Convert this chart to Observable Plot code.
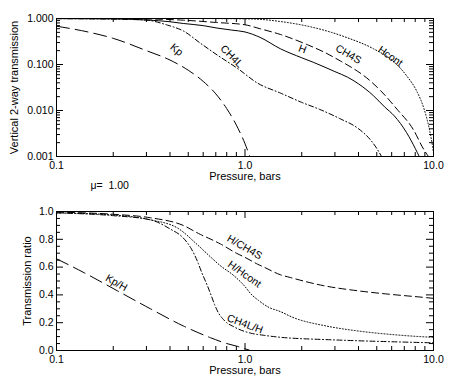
<!DOCTYPE html>
<html>
<head>
<meta charset="utf-8">
<script src="https://cdn.jsdelivr.net/npm/d3@7"></script>
<script src="https://cdn.jsdelivr.net/npm/@observablehq/plot@0.6"></script>
<style>
  html, body { margin: 0; padding: 0; background: white; }
  #chart { width: 450px; height: 386px; position: relative; }
  #chart svg { display: block; }
</style>
</head>
<body>
<div id="chart"></div>
<script>
// ---------- Top panel: vertical 2-way transmission ----------
const pKp   = [0.1, 0.15, 0.2, 0.3, 0.4, 0.5, 0.6, 0.7, 0.8, 0.9, 1.0, 1.06];
const tKp   = [0.68, 0.50, 0.37, 0.20, 0.125, 0.075, 0.043, 0.023, 0.011, 0.0048, 0.0019, 0.001];

const pCH4L = [0.1, 0.2, 0.3, 0.387, 0.473, 0.58, 0.715, 0.91, 1.17, 1.54, 2.0, 2.5, 3.2, 3.94, 4.63, 5.0, 5.3];
const tCH4L = [0.99, 0.97, 0.92, 0.72, 0.53, 0.29, 0.159, 0.083, 0.039, 0.024, 0.015, 0.0105, 0.0066, 0.0042, 0.0023, 0.0015, 0.001];

const pH    = [0.1, 0.2, 0.3, 0.4, 0.47, 0.6, 0.71, 0.85, 1.0, 1.2, 1.54, 2.0, 2.3, 3.0, 3.5, 4.0, 4.8, 5.5, 6.2, 7.2, 8.0, 8.4];
const tH    = [0.995, 0.98, 0.93, 0.85, 0.78, 0.70, 0.62, 0.56, 0.51, 0.39, 0.22, 0.14, 0.112, 0.07, 0.053, 0.038, 0.021, 0.012, 0.0076, 0.0033, 0.0015, 0.001];

const pCH4S = [0.1, 0.2, 0.3, 0.47, 0.7, 1.0, 1.2, 1.54, 2.14, 2.6, 3.2, 3.94, 4.25, 5.24, 6.4, 7.8, 8.9, 9.4];
const tCH4S = [1.0, 0.995, 0.98, 0.92, 0.82, 0.73, 0.6, 0.45, 0.27, 0.19, 0.12, 0.072, 0.058, 0.027, 0.0107, 0.0039, 0.0014, 0.001];

const pHcont = [0.1, 0.5, 1.0, 1.2, 1.54, 2.3, 3.5, 4.8, 6.2, 7.2, 8.2, 8.9, 9.5, 9.9, 10];
const tHcont = [1.0, 1.0, 0.985, 0.96, 0.86, 0.64, 0.38, 0.22, 0.112, 0.057, 0.025, 0.011, 0.004, 0.0016, 0.0012];

const topLabels = ["Kp", "CH4L", "H", "CH4S", "Hcont"];
const topLabelP = [0.434, 0.85, 2.02, 3.54, 5.9];
const topLabelV = [0.21, 0.151, 0.215, 0.167, 0.151];
const topLabelA = [40, 45, 20, 30, 35];

// ---------- Bottom panel: transmission ratio ----------
const pKpH   = [0.1, 0.14, 0.21, 0.315, 0.47, 0.656, 0.8, 0.91, 1.0, 1.05];
const rKpH   = [0.66, 0.56, 0.43, 0.30, 0.177, 0.092, 0.05, 0.03, 0.012, 0.004];

const pHCH4S = [0.1, 0.2, 0.315, 0.47, 0.58, 0.66, 0.74, 0.9, 1.0, 1.17, 1.26, 1.54, 1.74, 2.62, 3.94, 5.8, 9.2, 10];
const rHCH4S = [0.995, 0.98, 0.955, 0.90, 0.835, 0.80, 0.767, 0.70, 0.67, 0.62, 0.60, 0.545, 0.525, 0.466, 0.43, 0.405, 0.38, 0.375];

const pHHcont = [0.1, 0.2, 0.315, 0.44, 0.56, 0.66, 0.74, 0.87, 1.0, 1.07, 1.18, 1.34, 1.54, 1.78, 2.68, 4.0, 6.0, 9.0, 10];
const rHHcont = [0.99, 0.975, 0.94, 0.88, 0.76, 0.67, 0.61, 0.54, 0.46, 0.41, 0.36, 0.31, 0.28, 0.24, 0.177, 0.14, 0.115, 0.098, 0.095];

const pCH4LH = [0.1, 0.2, 0.315, 0.4, 0.47, 0.52, 0.56, 0.59, 0.63, 0.66, 0.69, 0.72, 0.76, 0.8, 0.86, 0.91, 1.07, 1.25, 1.54, 2.0, 2.5, 4.0, 6.0, 10];
const rCH4LH = [0.99, 0.97, 0.94, 0.875, 0.81, 0.73, 0.64, 0.56, 0.47, 0.40, 0.33, 0.275, 0.23, 0.20, 0.175, 0.158, 0.125, 0.11, 0.095, 0.085, 0.08, 0.07, 0.063, 0.055];

const botLabels = ["Kp/H", "H/CH4S", "H/Hcont", "CH4L/H"];
const botLabelP = [0.208, 0.994, 0.994, 1.0];
const botLabelV = [0.487, 0.744, 0.549, 0.191];
const botLabelA = [30, 30, 35, 20];

// ---------- Ticks ----------
const xMajor = [0.1, 1, 10];
const xMajorText = ["0.1", "1.0", "10.0"];
const xMinor = [0.2, 0.3, 0.4, 0.5, 0.6, 0.7, 0.8, 0.9, 2, 3, 4, 5, 6, 7, 8, 9];
const yTopMajor = [0.001, 0.01, 0.1, 1];
const yTopMajorText = ["0.001", "0.010", "0.100", "1.000"];
const yTopMinor = [0.002,0.003,0.004,0.005,0.006,0.007,0.008,0.009,0.02,0.03,0.04,0.05,0.06,0.07,0.08,0.09,0.2,0.3,0.4,0.5,0.6,0.7,0.8,0.9];
const yBotMajor = [0, 0.2, 0.4, 0.6, 0.8, 1.0];
const yBotMajorText = ["0.0", "0.2", "0.4", "0.6", "0.8", "1.0"];
const yBotMinor = [0.05, 0.1, 0.15, 0.25, 0.3, 0.35, 0.45, 0.5, 0.55, 0.65, 0.7, 0.75, 0.85, 0.9, 0.95];

const zip = (ps, vs, name) => ps.map((p, i) => ({p, v: vs[i], name}));

const font = "'Liberation Sans', Arial, Helvetica, sans-serif";
const W = 450, H = 193;
const ML = 56, MR = 17;
const MAJ = 7, MIN = 4;

function ticksMarks(frameH, frameW, yMaj, yMin) {
  return [
    Plot.tickX(xMajor, {x: d => d, insetTop: frameH - MAJ, stroke: "black"}),
    Plot.tickX(xMajor, {x: d => d, insetBottom: frameH - MAJ, stroke: "black"}),
    Plot.tickX(xMinor, {x: d => d, insetTop: frameH - MIN, stroke: "black"}),
    Plot.tickX(xMinor, {x: d => d, insetBottom: frameH - MIN, stroke: "black"}),
    Plot.tickY(yMaj, {y: d => d, insetRight: frameW - MAJ, stroke: "black"}),
    Plot.tickY(yMaj, {y: d => d, insetLeft: frameW - MAJ, stroke: "black"}),
    Plot.tickY(yMin, {y: d => d, insetRight: frameW - MIN, stroke: "black"}),
    Plot.tickY(yMin, {y: d => d, insetLeft: frameW - MIN, stroke: "black"})
  ];
}

const lineStyle = (dash) => ({x: "p", y: "v", stroke: "black", strokeWidth: 1, strokeDasharray: dash, curve: "monotone-x"});

const DASH = "7,4", DOT = "1,2", DASHDOT = "5,2.5,1,2.5", LONG = "13,6";

// Top plot
const topMT = 18, topMB = 37;
const topFrameH = H - topMT - topMB, frameW = W - ML - MR;
const topPlot = Plot.plot({
  width: W, height: H,
  marginTop: topMT, marginBottom: topMB, marginLeft: ML, marginRight: MR,
  x: {type: "log", domain: [0.1, 10], axis: null},
  y: {type: "log", domain: [0.001, 1], axis: null},
  style: {fontFamily: font, fontSize: "10.5px", background: "white", color: "black", overflow: "visible"},
  marks: [
    Plot.line(zip(pKp, tKp, "Kp"), lineStyle(LONG)),
    Plot.line(zip(pCH4L, tCH4L, "CH4L"), lineStyle(DASHDOT)),
    Plot.line(zip(pH, tH, "H"), lineStyle(null)),
    Plot.line(zip(pCH4S, tCH4S, "CH4S"), lineStyle(DASH)),
    Plot.line(zip(pHcont, tHcont, "Hcont"), lineStyle(DOT)),
    Plot.text(topLabels, {x: (d, i) => topLabelP[i], y: (d, i) => topLabelV[i], text: d => d, rotate: (d, i) => topLabelA[i], fill: "black", fontSize: 10.5}),
    ...ticksMarks(topFrameH, frameW, yTopMajor, yTopMinor),
    Plot.frame({stroke: "black"}),
    Plot.text(xMajor, {x: d => d, text: (d, i) => xMajorText[i], frameAnchor: "bottom", dy: 12, fill: "black"}),
    Plot.text(yTopMajor, {y: d => d, text: (d, i) => yTopMajorText[i], frameAnchor: "left", dx: -3, textAnchor: "end", fill: "black"}),
    Plot.text(["Pressure, bars"], {frameAnchor: "bottom", dy: 23, fill: "black", fontSize: 11}),
    Plot.text(["Vertical 2-way transmission"], {frameAnchor: "left", dx: -42, rotate: -90, textAnchor: "middle", fill: "black", fontSize: 11}),
    Plot.text(["\u03bc=  1.00"], {frameAnchor: "bottom-left", dx: 34, dy: 32, textAnchor: "start", fill: "black", fontSize: 10.5})
  ]
});

// Bottom plot
const botMT = 18, botMB = 36;
const botFrameH = H - botMT - botMB;
const bottomPlot = Plot.plot({
  width: W, height: H,
  marginTop: botMT, marginBottom: botMB, marginLeft: ML, marginRight: MR,
  x: {type: "log", domain: [0.1, 10], axis: null},
  y: {type: "linear", domain: [0, 1], axis: null},
  style: {fontFamily: font, fontSize: "10.5px", background: "white", color: "black", overflow: "visible"},
  marks: [
    Plot.line(zip(pKpH, rKpH, "Kp/H"), lineStyle(LONG)),
    Plot.line(zip(pHCH4S, rHCH4S, "H/CH4S"), lineStyle(DASH)),
    Plot.line(zip(pHHcont, rHHcont, "H/Hcont"), lineStyle(DOT)),
    Plot.line(zip(pCH4LH, rCH4LH, "CH4L/H"), lineStyle(DASHDOT)),
    Plot.text(botLabels, {x: (d, i) => botLabelP[i], y: (d, i) => botLabelV[i], text: d => d, rotate: (d, i) => botLabelA[i], fill: "black", fontSize: 10.5}),
    ...ticksMarks(botFrameH, frameW, yBotMajor, yBotMinor),
    Plot.frame({stroke: "black"}),
    Plot.text(xMajor, {x: d => d, text: (d, i) => xMajorText[i], frameAnchor: "bottom", dy: 12, fill: "black"}),
    Plot.text(yBotMajor, {y: d => d, text: (d, i) => yBotMajorText[i], frameAnchor: "left", dx: -3, textAnchor: "end", fill: "black"}),
    Plot.text(["Pressure, bars"], {frameAnchor: "bottom", dy: 23, fill: "black", fontSize: 11}),
    Plot.text(["Transmission ratio"], {frameAnchor: "left", dx: -29, rotate: -90, textAnchor: "middle", fill: "black", fontSize: 11})
  ]
});

const chart = document.getElementById("chart");
chart.appendChild(topPlot);
chart.appendChild(bottomPlot);
</script>
</body>
</html>
